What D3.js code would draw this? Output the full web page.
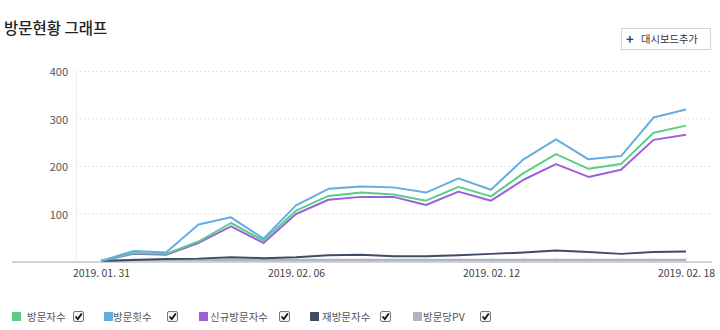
<!DOCTYPE html>
<html><head><meta charset="utf-8">
<script src="https://cdn.jsdelivr.net/npm/d3@7/dist/d3.min.js"></script>
<style>
body{margin:0;background:#fff;}
svg{display:block;font-family:"Noto Sans CJK KR","Noto Sans",sans-serif;}
</style></head><body>
<svg id="c" width="720" height="330"></svg>
<script>
const dates = ["2019-01-31","2019-02-01","2019-02-02","2019-02-03","2019-02-04","2019-02-05","2019-02-06","2019-02-07","2019-02-08","2019-02-09","2019-02-10","2019-02-11","2019-02-12","2019-02-13","2019-02-14","2019-02-15","2019-02-16","2019-02-17","2019-02-18"];
const visitors    = [0,17,15,41,80,43,106,137,144,140,127,156,136,185,225,194,204,270,285];
const visits      = [0,21,18,77,92,47,117,152,157,155,144,174,150,214,256,214,221,302,319];
const newVisitors = [0,15,13,38,73,38,99,129,135,135,118,146,127,171,204,177,192,255,266];
const returning   = [0,2,4,5,8,6,8,12,13,10,10,12,15,18,22,19,15,19,20];
const pvPerVisit  = [0,2,2,2,2,2,2,2,2,2,2,2,2,2,2,2,2,2,2];
const yTicks = [100,200,300,400];
const xTickLabels = {"2019-01-31":"2019. 01. 31","2019-02-06":"2019. 02. 06","2019-02-12":"2019. 02. 12","2019-02-18":"2019. 02. 18"};
const seriesNames = ["방문자수","방문횟수","신규방문자수","재방문자수","방문당PV"];
const seriesColors = ["#5ccd84","#64ade3","#9b61db","#404c62","#aeb6c2"];
const seriesData = [visitors, visits, newVisitors, returning, pvPerVisit];

const svg = d3.select("#c");
const x = d3.scalePoint().domain(dates).range([101,686]);
const y = d3.scaleLinear().domain([0,400]).range([261,71]);

// title
svg.append("text").attr("x",4).attr("y",34).attr("font-size",15.5).attr("font-weight",500).attr("fill","#222").text("방문현황 그래프");

// button
const btn = svg.append("g");
btn.append("rect").attr("x",621.5).attr("y",28.5).attr("width",89).attr("height",21).attr("fill","#fff").attr("stroke","#d4d4d4");
btn.append("text").attr("x",626).attr("y",43.5).attr("font-size",13).attr("font-weight",700).attr("fill","#2a3c6a").text("+");
btn.append("text").attr("x",641).attr("y",43).attr("font-size",10.3).attr("fill","#333").text("대시보드추가");

// grid
svg.append("g").selectAll("line").data(yTicks).join("line")
  .attr("x1",76).attr("x2",712).attr("y1",d=>y(d)+0.5).attr("y2",d=>y(d)+0.5)
  .attr("stroke","#e2e2e2").attr("stroke-dasharray","2,2");
svg.append("line").attr("x1",76.5).attr("x2",76.5).attr("y1",y(400)).attr("y2",y(0)).attr("stroke","#ececec");

// y labels
svg.append("g").selectAll("text").data(yTicks).join("text")
  .attr("x",68).attr("y",d=>y(d)+5).attr("text-anchor","end").attr("font-size",11).attr("fill","#555").text(d=>d);

// x axis baseline + day ticks
svg.append("line").attr("x1",12).attr("x2",712).attr("y1",262).attr("y2",262).attr("stroke","#d2d2d8").attr("stroke-width",2);
const xAxis = d3.axisBottom(x).tickSize(-4).tickFormat(d=>xTickLabels[d]||"");
const gx = svg.append("g").attr("transform","translate(0,261)").call(xAxis);
gx.select(".domain").remove();
gx.selectAll(".tick line").attr("stroke","#e6e6ea");
gx.selectAll(".tick text").attr("font-size",10.5).attr("fill","#444").attr("dy","1.25em")
  .attr("font-family",'"Noto Sans CJK KR","Noto Sans",sans-serif');

// lines
const line = d3.line().x((d,i)=>x(dates[i])).y(d=>y(d));
const order = [4,3,2,0,1];
svg.append("g").selectAll("path").data(order).join("path")
  .attr("d",k=>line(seriesData[k])).attr("fill","none")
  .attr("stroke",k=>seriesColors[k]).attr("stroke-width",k=>k===4?2.5:2).attr("stroke-linejoin","round");

// legend
const legX = [[12,27,73],[104,113,167],[199,210,279],[310,322,380],[413,423,480]];
const lg = svg.append("g");
seriesNames.forEach((n,i)=>{
  const [sx,tx,cx]=legX[i];
  lg.append("rect").attr("x",sx).attr("y",312).attr("width",9).attr("height",9).attr("fill",seriesColors[i]);
  lg.append("text").attr("x",tx).attr("y",321).attr("font-size",10.5).attr("fill","#555").text(n);
  lg.append("rect").attr("x",cx+0.5).attr("y",311.5).attr("width",10).attr("height",10).attr("rx",1.5).attr("fill","#f4f4f4").attr("stroke","#777");
  lg.append("path").attr("d",`M${cx+2.5},${316.5} L${cx+4.8},${319} L${cx+8.8},${313.5}`).attr("fill","none").attr("stroke","#111").attr("stroke-width",1.8);
});
</script>
</body></html>
